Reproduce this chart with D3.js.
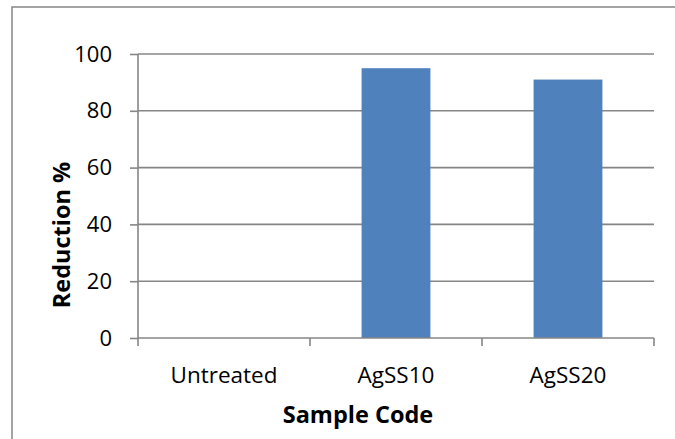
<!DOCTYPE html>
<html>
<head>
<meta charset="utf-8">
<script src="https://cdn.jsdelivr.net/npm/d3@7"></script>
<style>
  html, body { margin: 0; padding: 0; background: #fff; }
  svg { display: block; font-family: "Open Sans", sans-serif; }
</style>
</head>
<body>
<svg id="chart" width="675" height="439"></svg>
<script>
// Reduction % by sample
const categories = ["Untreated", "AgSS10", "AgSS20"];
const reduction = [0, 95, 91];
const yTicks = [0, 20, 40, 60, 80, 100];

const svg = d3.select("#chart");
const plotLeft = 138, plotRight = 654, plotTop = 54, plotBottom = 338;
const gridColor = "#868686";

// chart-area frame (only left and top edges fall inside the view)
svg.append("rect")
  .attr("x", 12).attr("y", 7)
  .attr("width", 900).attr("height", 700)
  .attr("fill", "none")
  .attr("stroke", gridColor)
  .attr("stroke-width", 1.5);

const y = d3.scaleLinear().domain([0, 100]).range([plotBottom, plotTop]);
const xCat = d3.scaleBand().domain(categories).range([plotLeft, plotRight]).padding(0);
const xBar = d3.scaleBand().domain(categories).range([plotLeft, plotRight])
  .paddingInner(0.6).paddingOuter(0.3);

// horizontal gridlines
svg.append("g")
  .selectAll("line")
  .data(yTicks.filter(t => t > 0))
  .join("line")
  .attr("x1", plotLeft).attr("x2", plotRight)
  .attr("y1", d => y(d)).attr("y2", d => y(d))
  .attr("stroke", gridColor)
  .attr("stroke-width", 1.6);

// bars
svg.append("g")
  .selectAll("rect")
  .data(categories.map((c, i) => ({ c, v: reduction[i] })))
  .join("rect")
  .attr("x", d => xBar(d.c))
  .attr("width", xBar.bandwidth())
  .attr("y", d => y(d.v))
  .attr("height", d => y(0) - y(d.v))
  .attr("fill", "#4F81BD");

// y axis
const yAxis = svg.append("g")
  .attr("transform", `translate(${plotLeft},0)`)
  .call(d3.axisLeft(y).tickValues(yTicks).tickSize(8).tickPadding(18));
yAxis.selectAll("line, path").attr("stroke", gridColor).attr("stroke-width", 1.6);
yAxis.select(".domain").attr("d", `M0,${plotTop}V${plotBottom}`);
yAxis.selectAll("text")
  .attr("font-family", "Open Sans").attr("font-size", 22).attr("fill", "#000");

// x axis: labels centred in each category, ticks on boundaries
const xAxis = svg.append("g")
  .attr("transform", `translate(0,${plotBottom})`)
  .call(d3.axisBottom(xCat).tickSize(0).tickPadding(0));
xAxis.select(".domain").attr("d", `M${plotLeft},0H${plotRight}`)
  .attr("stroke", gridColor).attr("stroke-width", 1.6);
xAxis.selectAll("text")
  .attr("y", 45).attr("dy", 0)
  .attr("font-family", "Open Sans").attr("font-size", 22.5).attr("fill", "#000");

const boundaries = categories.map(c => xCat(c))
  .concat([xCat(categories[categories.length - 1]) + xCat.bandwidth()]);
xAxis.append("g")
  .selectAll("line")
  .data(boundaries)
  .join("line")
  .attr("x1", d => d).attr("x2", d => d)
  .attr("y1", 0).attr("y2", 8)
  .attr("stroke", gridColor).attr("stroke-width", 1.6);

// axis titles
svg.append("text")
  .attr("x", 358).attr("y", 423)
  .attr("text-anchor", "middle")
  .attr("font-weight", "bold").attr("font-size", 23.5)
  .text("Sample Code");

svg.append("text")
  .attr("transform", "translate(70,235) rotate(-90)")
  .attr("text-anchor", "middle")
  .attr("font-weight", "bold").attr("font-size", 23.5)
  .text("Reduction %");
</script>
</body>
</html>
